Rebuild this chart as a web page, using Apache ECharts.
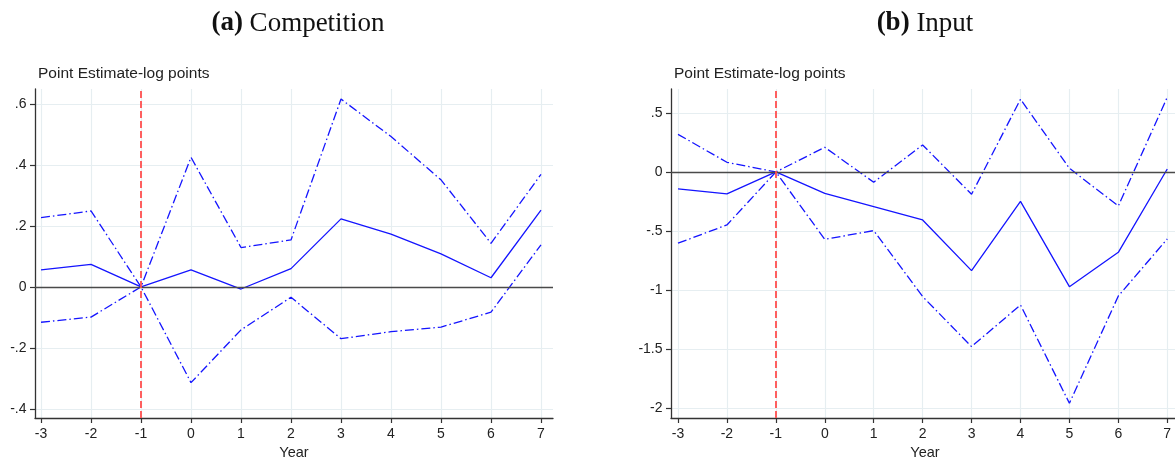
<!DOCTYPE html>
<html>
<head>
<meta charset="utf-8">
<script src="https://cdn.jsdelivr.net/npm/echarts@6/dist/echarts.min.js"></script>
<style>
  html, body { margin: 0; padding: 0; background: #ffffff; }
  #chart { width: 1175px; height: 459px; }
</style>
</head>
<body>
<div id="chart"></div>
<script>
// ---- Data ----
const years = [-3, -2, -1, 0, 1, 2, 3, 4, 5, 6, 7];

const compEstimate = [0.056, 0.074, 0, 0.056, -0.007, 0.060, 0.223, 0.173, 0.108, 0.030, 0.252];
const compUpper    = [0.227, 0.249, 0, 0.425, 0.129, 0.154, 0.616, 0.493, 0.351, 0.143, 0.369];
const compLower    = [-0.116, -0.099, 0, -0.314, -0.141, -0.034, -0.170, -0.147, -0.132, -0.083, 0.138];

const inputEstimate = [-0.144, -0.186, 0, -0.181, -0.294, -0.407, -0.836, -0.249, -0.972, -0.681, 0.025];
const inputUpper    = [0.319, 0.082, 0, 0.209, -0.087, 0.229, -0.189, 0.616, 0.031, -0.288, 0.633];
const inputLower    = [-0.604, -0.449, 0, -0.571, -0.497, -1.056, -1.480, -1.127, -1.960, -1.051, -0.568];

const compTicks  = [-0.4, -0.2, 0, 0.2, 0.4, 0.6];
const inputTicks = [-2, -1.5, -1, -0.5, 0, 0.5];
const xTicks     = years;

const panelTitles = [['(a)', 'Competition'], ['(b)', 'Input']];
const yAxisTitle = 'Point Estimate-log points';
const xAxisTitle = 'Year';
const eventYear = -1;
const zeroLevel = 0;

// ---- Helpers ----
const pairs = (vals) => years.map((y, i) => [y, vals[i]]);
const fmtNum = (v) => {
  if (v === 0) return '0';
  let s = String(v);
  s = s.replace(/^0\./, '.').replace(/^-0\./, '-.');
  return s;
};

const BLUE = '#1414ff';
const AXIS = '#333333';
const GRIDC = '#e6eef1';
const SANS = '"Liberation Sans", Arial, sans-serif';
const SERIF = '"Liberation Serif", "DejaVu Serif", serif';

function makeX(gridIndex, min, max) {
  return {
    type: 'value', gridIndex, min, max,
    name: xAxisTitle, nameLocation: 'middle', nameGap: 24,
    nameTextStyle: { fontFamily: SANS, fontSize: 14.5, color: '#222' },
    axisLine: { show: true, onZero: false, lineStyle: { color: AXIS, width: 1.3 } },
    axisTick: { show: true, length: 5, customValues: xTicks, lineStyle: { color: AXIS, width: 1.2 } },
    axisLabel: { customValues: xTicks, margin: 9, fontFamily: SANS, fontSize: 14, color: '#222', formatter: fmtNum },
    splitLine: { show: true, lineStyle: { color: GRIDC, width: 1.2 } }
  };
}
function makeY(gridIndex, min, max, ticks) {
  return {
    type: 'value', gridIndex, min, max,
    name: yAxisTitle, nameLocation: 'end', nameGap: 15,
    nameTextStyle: { fontFamily: SANS, fontSize: 15.5, color: '#222', align: 'left', verticalAlign: 'middle', padding: [0, 0, 0, 3] },
    axisLine: { show: true, onZero: false, lineStyle: { color: AXIS, width: 1.3 } },
    axisTick: { show: true, length: 5, customValues: ticks, lineStyle: { color: AXIS, width: 1.2 } },
    axisLabel: { customValues: ticks, margin: 8.5, fontFamily: SANS, fontSize: 14, color: '#222', formatter: fmtNum },
    splitLine: { show: true, lineStyle: { color: GRIDC, width: 1.2 } }
  };
}

function panelSeries(idx, est, up, lo) {
  const common = { type: 'line', xAxisIndex: idx, yAxisIndex: idx, showSymbol: false, symbol: 'none', silent: true, animation: false };
  const dashDot = [9, 3, 1.5, 3];
  return [
    Object.assign({}, common, {
      data: [], z: 1,
      markLine: { silent: true, symbol: ['none', 'none'], label: { show: false }, animation: false,
        lineStyle: { color: '#4a4a4a', width: 1.4, type: 'solid' }, data: [{ yAxis: zeroLevel }] }
    }),
    Object.assign({}, common, { data: pairs(est), z: 2, lineStyle: { color: BLUE, width: 1.3, type: 'solid' } }),
    Object.assign({}, common, { data: pairs(up), z: 2, lineStyle: { color: BLUE, width: 1.3, type: dashDot } }),
    Object.assign({}, common, { data: pairs(lo), z: 2, lineStyle: { color: BLUE, width: 1.3, type: dashDot } }),
    Object.assign({}, common, {
      data: [], z: 3,
      markLine: { silent: true, symbol: ['none', 'none'], label: { show: false }, animation: false,
        lineStyle: { color: '#ff4f4f', width: 1.8, type: [7, 3] }, data: [{ xAxis: eventYear }] }
    })
  ];
}

const chart = echarts.init(document.getElementById('chart'), null, { renderer: 'canvas' });
const titleStyle = (t) => ({
  text: '{b|' + t[0] + '} ' + t[1], textAlign: 'center', textVerticalAlign: 'top',
  font: '27px ' + SERIF, fill: '#111',
  rich: { b: { fontFamily: SERIF, fontSize: 27, fontWeight: 'bold', fill: '#111' } }
});
chart.setOption({
  backgroundColor: '#ffffff',
  animation: false,
  grid: [
    { left: 35, top: 89, width: 518, bottom: 41, containLabel: false, outerBoundsMode: 'none' },
    { left: 671, top: 89, width: 508, bottom: 41, containLabel: false, outerBoundsMode: 'none' }
  ],
  xAxis: [makeX(0, -3.12, 7.24), makeX(1, -3.143, 7.24)],
  yAxis: [makeY(0, -0.43, 0.649, compTicks), makeY(1, -2.085, 0.703, inputTicks)],
  graphic: [
    { type: 'text', x: 298, y: 10, style: titleStyle(panelTitles[0]) },
    { type: 'text', x: 925, y: 10, style: titleStyle(panelTitles[1]) }
  ],
  series: [].concat(
    panelSeries(0, compEstimate, compUpper, compLower),
    panelSeries(1, inputEstimate, inputUpper, inputLower)
  )
});
</script>
</body>
</html>
